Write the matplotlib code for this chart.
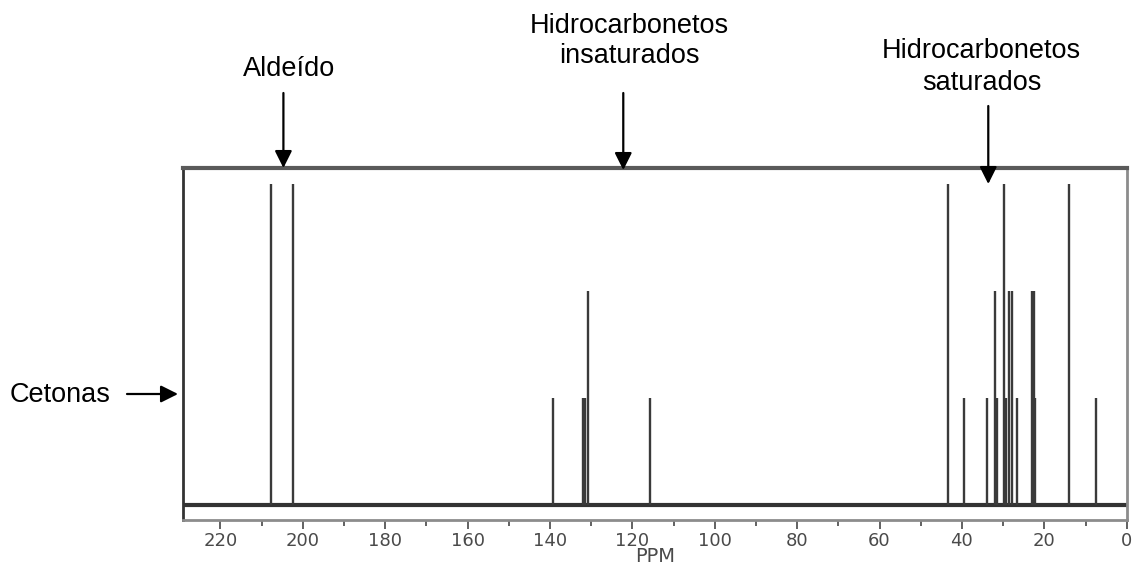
import matplotlib
matplotlib.use("Agg")
import matplotlib.pyplot as plt
from matplotlib.ticker import MultipleLocator

plt.rcParams["font.family"] = ["Liberation Sans", "DejaVu Sans"]

# 13C NMR signals: chemical shift (ppm) and relative line height
shifts = [207.8, 202.4, 139.2, 132.0, 131.4, 130.75, 115.7,
          43.4, 39.4, 33.8, 31.9, 31.5, 29.7, 29.2, 28.6, 27.9,
          26.6, 23.1, 22.6, 22.2, 14.1, 7.5]
heights = [3, 3, 1, 1, 1, 2, 1,
           3, 1, 1, 2, 1, 3, 1, 2, 2,
           1, 2, 2, 1, 3, 1]

# Region labels: text lines, arrow position (ppm)
region_labels = ["Aldeído", "Hidrocarbonetos\ninsaturados", "Hidrocarbonetos\nsaturados"]
region_arrow_ppm = [204.7, 122.2, 33.6]
side_label = "Cetonas"

W, H = 1138, 565
fig = plt.figure(figsize=(W / 100, H / 100), dpi=100)

def fx(px):
    return px / W

def fy(py):
    return 1 - py / H

ax = fig.add_axes([fx(183.3), fy(520), fx(1126.7) - fx(183.3), fy(168) - fy(520)])
ax.set_xlim(229, 0)
ax.set_ylim(-0.14, 3.15)

# baseline and spectral lines
ax.axhline(0, color="#333333", lw=3, zorder=2)
ax.vlines(shifts, 0, heights, colors="#3a3a3a", lw=1.7, zorder=3)

# frame
ax.spines["left"].set_color("#333333")
ax.spines["left"].set_linewidth(2)
ax.spines["top"].set_color("#5a5a5a")
ax.spines["top"].set_linewidth(3)
ax.spines["right"].set_color("#8c8c8c")
ax.spines["right"].set_linewidth(2)
ax.spines["bottom"].set_color("#8c8c8c")
ax.spines["bottom"].set_linewidth(2)

ax.set_yticks([])
ax.xaxis.set_major_locator(MultipleLocator(20))
ax.xaxis.set_minor_locator(MultipleLocator(10))
ax.tick_params(axis="x", which="major", direction="out", length=6.5, width=1.3,
               color="#555555", labelcolor="#4a4a4a", labelsize=13, pad=2)
ax.tick_params(axis="x", which="minor", direction="out", length=4.3, width=1.3,
               color="#555555")
for lbl in ax.get_xticklabels():
    lbl.set_family("DejaVu Sans")
ax.set_xlabel("PPM", fontsize=14, color="#4a4a4a", labelpad=-2, family="DejaVu Sans")

# region labels with arrows pointing to the top of the frame
label_centers = [289, 629.5, 981.5]
label_baselines = [[76], [33, 63], [58, 90]]
arrow_tails = [93, 93, 106]
arrow_tips = [168, 170, 184]
ax_h = 352
for text, ppm, cx, bases, tail, tip in zip(region_labels, region_arrow_ppm,
                                           label_centers, label_baselines,
                                           arrow_tails, arrow_tips):
    for line, b in zip(text.split("\n"), bases):
        fig.text(fx(cx), fy(b), line, ha="center", va="baseline",
                 fontsize=19.5, color="black")
    ax.annotate("", xy=(ppm, (520 - tip) / ax_h), xycoords=("data", "axes fraction"),
                xytext=(ppm, (520 - tail) / ax_h), textcoords=("data", "axes fraction"),
                arrowprops=dict(arrowstyle="-|>", mutation_scale=26, lw=1.6,
                                color="black", shrinkA=0, shrinkB=0),
                annotation_clip=False)

fig.text(fx(10), fy(402), side_label, ha="left", va="baseline", fontsize=19.5, color="black")
ax.annotate("", xy=((178 - 183.3) / 943.4, (520 - 394) / ax_h), xycoords="axes fraction",
            xytext=((127 - 183.3) / 943.4, (520 - 394) / ax_h), textcoords="axes fraction",
            arrowprops=dict(arrowstyle="-|>", mutation_scale=26, lw=1.6,
                            color="black", shrinkA=0, shrinkB=0),
            annotation_clip=False)

fig.savefig("out.png", dpi=100)
